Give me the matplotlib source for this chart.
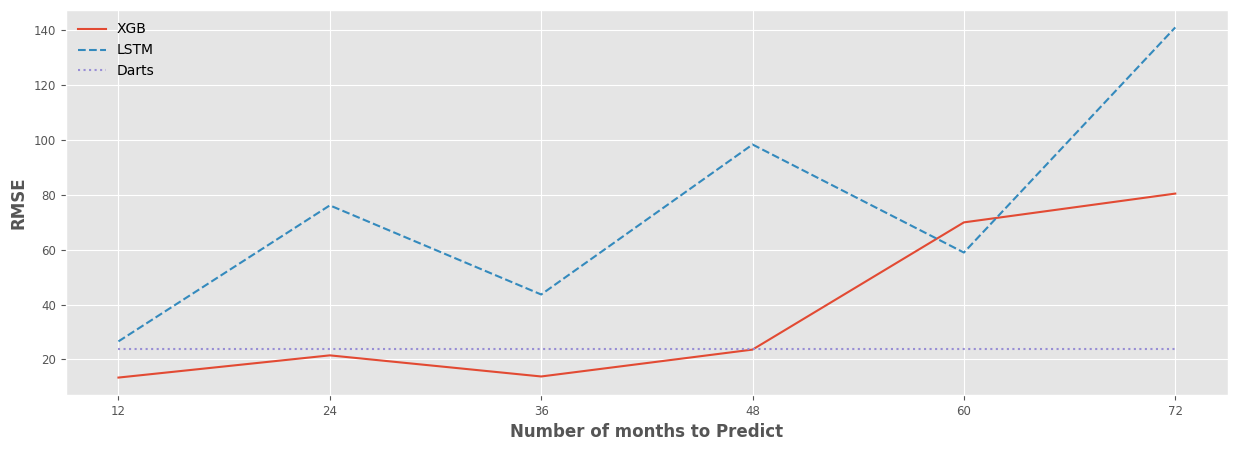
import matplotlib
matplotlib.use("Agg")
import matplotlib.pyplot as plt

months = [12, 24, 36, 48, 60, 72]
xgb_rmse = [13.4, 21.5, 13.8, 23.6, 70.0, 80.5]
lstm_rmse = [26.6, 76.2, 43.7, 98.4, 59.0, 141.1]
darts_rmse = [24.0, 24.0, 24.0, 24.0, 24.0, 24.0]

plt.style.use("ggplot")

fig, ax = plt.subplots(figsize=(12.38, 4.51), dpi=100)
ax.plot(months, xgb_rmse, label="XGB")
ax.plot(months, lstm_rmse, linestyle="--", label="LSTM")
ax.plot(months, darts_rmse, linestyle=":", label="Darts")

ax.set_xticks(months)
ax.tick_params(labelsize=8.5)
ax.set_xlabel("Number of months to Predict", fontsize=12, fontweight="bold")
ax.set_ylabel("RMSE", fontsize=12, fontweight="bold")
ax.legend(loc="upper left", frameon=False, fontsize=10)

fig.subplots_adjust(left=0.053, right=0.992, top=0.978, bottom=0.124)
fig.savefig("out.png")
